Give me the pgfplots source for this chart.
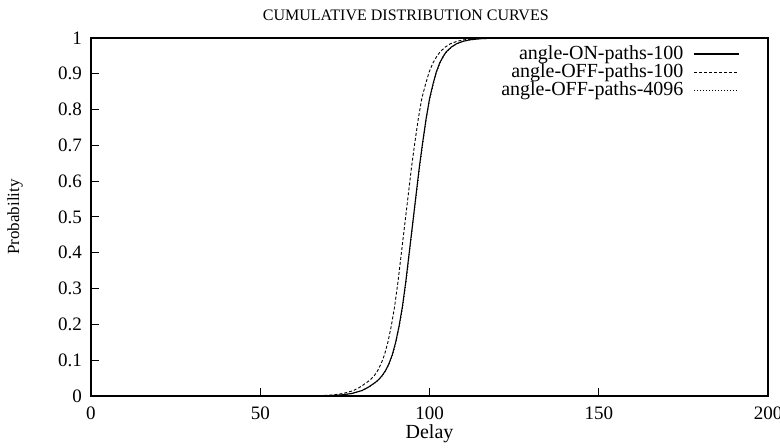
\documentclass[border=0pt]{standalone}
\usepackage{fontspec}
\setmainfont{Liberation Serif}
\usepackage{pgfplots}
\pgfplotsset{compat=1.18}

\begin{document}
\begin{tikzpicture}
\begin{axis}[
    at={(0,0)}, anchor=south west,
    scale only axis,
    width=338.5pt, height=179pt,
    xmin=0, xmax=200, ymin=0, ymax=1,
    xtick={0,50,100,150,200},
    ytick={0,0.1,...,1},
    yticklabels={0,0.1,0.2,0.3,0.4,0.5,0.6,0.7,0.8,0.9,1},
    tick pos=left, tick align=inside,
    major tick length=4pt,
    axis line style={line width=0.6pt},
    every tick/.style={black, line width=0.5pt},
    tick label style={font=\fontsize{9.5}{10}\selectfont},
    /pgf/number format/assume math mode=true,
    xticklabel style={yshift=-2pt},
    yticklabel style={xshift=-1pt},
    title={CUMULATIVE DISTRIBUTION CURVES},
    every axis title shift=0pt,
    title style={at={(axis description cs:0.465,1.064)}, anchor=center,
        font=\fontsize{8}{9}\selectfont},
    xlabel={Delay},
    xlabel style={at={(axis description cs:0.5,-0.106)}, anchor=center,
        font=\fontsize{10}{11}\selectfont},
    ylabel={Probability},
    ylabel style={at={(axis description cs:-0.112,0.5)}, anchor=center,
        font=\fontsize{8.5}{9}\selectfont},
    legend style={draw=none, fill=none, inner sep=0pt,
        at={(axis description cs:0.9586,0.983)}, anchor=north east,
        cells={anchor=east}, row sep=-0.5pt, column sep=5pt,
        nodes={inner sep=0pt, text height=7.5pt, text depth=2pt},
        font=\fontsize{10}{11}\selectfont},
    legend plot pos=right,
    legend image code/.code={\draw[#1] (0pt,0pt) -- (22.5pt,0pt);},
]
% angle-ON-paths-100
\addplot[black, line width=0.55pt] coordinates {
  (66,0) (70,0.001) (74,0.003) (77,0.007) (80,0.015) (82,0.025) (84,0.038)
  (85,0.046) (86,0.057) (87,0.071) (88,0.09) (89,0.115) (90,0.15) (91,0.195)
  (92,0.25) (93,0.32) (94,0.40) (95,0.48) (96,0.56) (97,0.64) (98,0.71)
  (99,0.775) (100,0.83) (101,0.87) (102,0.905) (103,0.93) (104,0.948)
  (105,0.962) (106.5,0.975) (108,0.984) (110,0.991) (112,0.995)
  (115,0.998) (119,0.9995) (124,1)
};
\addlegendentry{angle-ON-paths-100}
% angle-OFF-paths-100
\addplot[black, line width=0.45pt, dash pattern=on 1.5pt off 1pt] coordinates {
  (66,0) (68,0.001) (71.5,0.003) (74.5,0.007) (77.5,0.015) (79.5,0.025)
  (81.5,0.038) (82.6,0.046) (83.7,0.057) (84.7,0.071) (85.7,0.09) (86.7,0.115)
  (87.7,0.15) (88.7,0.195) (89.7,0.25) (90.7,0.32) (91.7,0.40) (92.7,0.48)
  (93.7,0.56) (94.7,0.64) (95.7,0.71) (96.7,0.775) (97.7,0.83) (98.8,0.87)
  (99.9,0.905) (101,0.93) (102.1,0.948) (103.2,0.962) (104.7,0.975)
  (106.2,0.984) (108.2,0.991) (110.2,0.995) (113.2,0.998) (117,0.9995)
  (122,1)
};
\addlegendentry{angle-OFF-paths-100}
% angle-OFF-paths-4096
\addplot[black, line width=0.45pt, dash pattern=on 0.5pt off 1pt] coordinates {
  (66,0) (70,0.001) (74.1,0.003) (77.1,0.007) (80.1,0.015) (82.1,0.025)
  (84.1,0.038) (85.1,0.046) (86.1,0.057) (87.1,0.071) (88.1,0.09) (89.1,0.115)
  (90.1,0.15) (91.1,0.195) (92.1,0.25) (93.1,0.32) (94.1,0.40) (95.1,0.48)
  (96.1,0.56) (97.1,0.64) (98.1,0.71) (99.1,0.775) (100.1,0.83) (101.1,0.87)
  (102.1,0.905) (103.1,0.93) (104.1,0.948) (105.1,0.962) (106.6,0.975)
  (108.1,0.984) (110.1,0.991) (112.1,0.995) (115.1,0.998) (119.1,0.9995)
  (124,1)
};
\addlegendentry{angle-OFF-paths-4096}
\end{axis}
\pgfresetboundingbox
\useasboundingbox (-45.5pt,-26pt) rectangle (344.5pt,198pt);
\end{tikzpicture}
\end{document}
